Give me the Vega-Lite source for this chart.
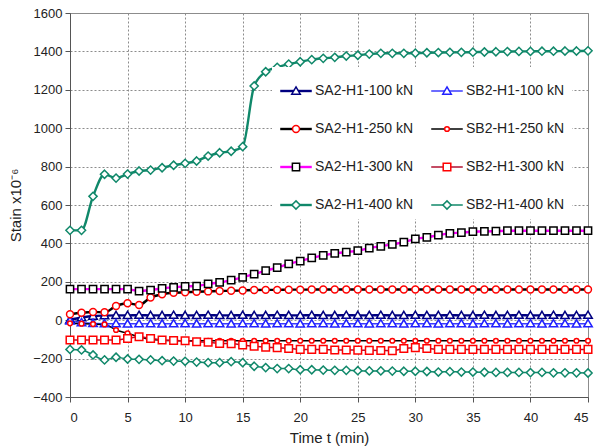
{
"$schema":"https://vega.github.io/schema/vega-lite/v6.json",
"width":518,"height":384,
"autosize":{"type":"none"},
"padding":{"left":70,"top":13,"right":6,"bottom":50},
"background":"white",
"config":{
 "font":"Liberation Sans",
 "view":{"stroke":"#8c8c8c","strokeWidth":1},
 "axis":{"labelFont":"Liberation Sans","labelFontSize":13,"labelColor":"#222","titleFont":"Liberation Sans","titleFontSize":15,"titleFontWeight":"normal","titleColor":"#222","gridColor":"#8c8c8c","gridDash":[2,2],"gridOpacity":1,"gridWidth":1,"domainColor":"#555","tickColor":"#555","tickSize":5}
},
"data":{"values":[
{"s":"SA2-H1-100 kN","t":0,"v":2},{"s":"SA2-H1-100 kN","t":1,"v":14},{"s":"SA2-H1-100 kN","t":2,"v":22},{"s":"SA2-H1-100 kN","t":3,"v":24},{"s":"SA2-H1-100 kN","t":4,"v":25},{"s":"SA2-H1-100 kN","t":5,"v":25},{"s":"SA2-H1-100 kN","t":6,"v":26},{"s":"SA2-H1-100 kN","t":7,"v":25},{"s":"SA2-H1-100 kN","t":8,"v":25},{"s":"SA2-H1-100 kN","t":9,"v":26},{"s":"SA2-H1-100 kN","t":10,"v":25},{"s":"SA2-H1-100 kN","t":11,"v":25},{"s":"SA2-H1-100 kN","t":12,"v":26},{"s":"SA2-H1-100 kN","t":13,"v":25},{"s":"SA2-H1-100 kN","t":14,"v":25},{"s":"SA2-H1-100 kN","t":15,"v":26},{"s":"SA2-H1-100 kN","t":16,"v":25},{"s":"SA2-H1-100 kN","t":17,"v":25},{"s":"SA2-H1-100 kN","t":18,"v":26},{"s":"SA2-H1-100 kN","t":19,"v":25},{"s":"SA2-H1-100 kN","t":20,"v":25},{"s":"SA2-H1-100 kN","t":21,"v":26},{"s":"SA2-H1-100 kN","t":22,"v":25},{"s":"SA2-H1-100 kN","t":23,"v":25},{"s":"SA2-H1-100 kN","t":24,"v":26},{"s":"SA2-H1-100 kN","t":25,"v":25},{"s":"SA2-H1-100 kN","t":26,"v":25},{"s":"SA2-H1-100 kN","t":27,"v":26},{"s":"SA2-H1-100 kN","t":28,"v":25},{"s":"SA2-H1-100 kN","t":29,"v":25},{"s":"SA2-H1-100 kN","t":30,"v":26},{"s":"SA2-H1-100 kN","t":31,"v":25},{"s":"SA2-H1-100 kN","t":32,"v":25},{"s":"SA2-H1-100 kN","t":33,"v":26},{"s":"SA2-H1-100 kN","t":34,"v":25},{"s":"SA2-H1-100 kN","t":35,"v":25},{"s":"SA2-H1-100 kN","t":36,"v":26},{"s":"SA2-H1-100 kN","t":37,"v":25},{"s":"SA2-H1-100 kN","t":38,"v":25},{"s":"SA2-H1-100 kN","t":39,"v":26},{"s":"SA2-H1-100 kN","t":40,"v":25},{"s":"SA2-H1-100 kN","t":41,"v":25},{"s":"SA2-H1-100 kN","t":42,"v":26},{"s":"SA2-H1-100 kN","t":43,"v":25},{"s":"SA2-H1-100 kN","t":44,"v":25},{"s":"SA2-H1-100 kN","t":45,"v":26},
{"s":"SB2-H1-100 kN","t":0,"v":-4},{"s":"SB2-H1-100 kN","t":1,"v":-12},{"s":"SB2-H1-100 kN","t":2,"v":-16},{"s":"SB2-H1-100 kN","t":3,"v":-18},{"s":"SB2-H1-100 kN","t":4,"v":-18},{"s":"SB2-H1-100 kN","t":5,"v":-19},{"s":"SB2-H1-100 kN","t":6,"v":-18},{"s":"SB2-H1-100 kN","t":7,"v":-18},{"s":"SB2-H1-100 kN","t":8,"v":-19},{"s":"SB2-H1-100 kN","t":9,"v":-18},{"s":"SB2-H1-100 kN","t":10,"v":-18},{"s":"SB2-H1-100 kN","t":11,"v":-19},{"s":"SB2-H1-100 kN","t":12,"v":-18},{"s":"SB2-H1-100 kN","t":13,"v":-18},{"s":"SB2-H1-100 kN","t":14,"v":-19},{"s":"SB2-H1-100 kN","t":15,"v":-18},{"s":"SB2-H1-100 kN","t":16,"v":-18},{"s":"SB2-H1-100 kN","t":17,"v":-19},{"s":"SB2-H1-100 kN","t":18,"v":-18},{"s":"SB2-H1-100 kN","t":19,"v":-18},{"s":"SB2-H1-100 kN","t":20,"v":-19},{"s":"SB2-H1-100 kN","t":21,"v":-18},{"s":"SB2-H1-100 kN","t":22,"v":-18},{"s":"SB2-H1-100 kN","t":23,"v":-19},{"s":"SB2-H1-100 kN","t":24,"v":-18},{"s":"SB2-H1-100 kN","t":25,"v":-18},{"s":"SB2-H1-100 kN","t":26,"v":-19},{"s":"SB2-H1-100 kN","t":27,"v":-18},{"s":"SB2-H1-100 kN","t":28,"v":-18},{"s":"SB2-H1-100 kN","t":29,"v":-19},{"s":"SB2-H1-100 kN","t":30,"v":-18},{"s":"SB2-H1-100 kN","t":31,"v":-18},{"s":"SB2-H1-100 kN","t":32,"v":-19},{"s":"SB2-H1-100 kN","t":33,"v":-18},{"s":"SB2-H1-100 kN","t":34,"v":-18},{"s":"SB2-H1-100 kN","t":35,"v":-19},{"s":"SB2-H1-100 kN","t":36,"v":-18},{"s":"SB2-H1-100 kN","t":37,"v":-18},{"s":"SB2-H1-100 kN","t":38,"v":-19},{"s":"SB2-H1-100 kN","t":39,"v":-18},{"s":"SB2-H1-100 kN","t":40,"v":-18},{"s":"SB2-H1-100 kN","t":41,"v":-19},{"s":"SB2-H1-100 kN","t":42,"v":-18},{"s":"SB2-H1-100 kN","t":43,"v":-18},{"s":"SB2-H1-100 kN","t":44,"v":-19},{"s":"SB2-H1-100 kN","t":45,"v":-18},
{"s":"SA2-H1-250 kN","t":0,"v":31},{"s":"SA2-H1-250 kN","t":1,"v":39},{"s":"SA2-H1-250 kN","t":2,"v":43},{"s":"SA2-H1-250 kN","t":3,"v":41},{"s":"SA2-H1-250 kN","t":4,"v":74},{"s":"SA2-H1-250 kN","t":5,"v":88},{"s":"SA2-H1-250 kN","t":6,"v":79},{"s":"SA2-H1-250 kN","t":7,"v":118},{"s":"SA2-H1-250 kN","t":8,"v":135},{"s":"SA2-H1-250 kN","t":9,"v":143},{"s":"SA2-H1-250 kN","t":10,"v":145},{"s":"SA2-H1-250 kN","t":11,"v":148},{"s":"SA2-H1-250 kN","t":12,"v":150},{"s":"SA2-H1-250 kN","t":13,"v":152},{"s":"SA2-H1-250 kN","t":14,"v":153},{"s":"SA2-H1-250 kN","t":15,"v":155},{"s":"SA2-H1-250 kN","t":16,"v":157},{"s":"SA2-H1-250 kN","t":17,"v":158},{"s":"SA2-H1-250 kN","t":18,"v":158},{"s":"SA2-H1-250 kN","t":19,"v":159},{"s":"SA2-H1-250 kN","t":20,"v":159},{"s":"SA2-H1-250 kN","t":21,"v":160},{"s":"SA2-H1-250 kN","t":22,"v":160},{"s":"SA2-H1-250 kN","t":23,"v":160},{"s":"SA2-H1-250 kN","t":24,"v":160},{"s":"SA2-H1-250 kN","t":25,"v":160},{"s":"SA2-H1-250 kN","t":26,"v":160},{"s":"SA2-H1-250 kN","t":27,"v":160},{"s":"SA2-H1-250 kN","t":28,"v":160},{"s":"SA2-H1-250 kN","t":29,"v":160},{"s":"SA2-H1-250 kN","t":30,"v":160},{"s":"SA2-H1-250 kN","t":31,"v":160},{"s":"SA2-H1-250 kN","t":32,"v":160},{"s":"SA2-H1-250 kN","t":33,"v":160},{"s":"SA2-H1-250 kN","t":34,"v":160},{"s":"SA2-H1-250 kN","t":35,"v":160},{"s":"SA2-H1-250 kN","t":36,"v":160},{"s":"SA2-H1-250 kN","t":37,"v":160},{"s":"SA2-H1-250 kN","t":38,"v":160},{"s":"SA2-H1-250 kN","t":39,"v":160},{"s":"SA2-H1-250 kN","t":40,"v":160},{"s":"SA2-H1-250 kN","t":41,"v":160},{"s":"SA2-H1-250 kN","t":42,"v":160},{"s":"SA2-H1-250 kN","t":43,"v":160},{"s":"SA2-H1-250 kN","t":44,"v":160},{"s":"SA2-H1-250 kN","t":45,"v":160},
{"s":"SB2-H1-250 kN","t":0,"v":-16},{"s":"SB2-H1-250 kN","t":1,"v":-18},{"s":"SB2-H1-250 kN","t":2,"v":-20},{"s":"SB2-H1-250 kN","t":3,"v":-22},{"s":"SB2-H1-250 kN","t":4,"v":-51},{"s":"SB2-H1-250 kN","t":5,"v":-68},{"s":"SB2-H1-250 kN","t":6,"v":-86},{"s":"SB2-H1-250 kN","t":7,"v":-100},{"s":"SB2-H1-250 kN","t":8,"v":-104},{"s":"SB2-H1-250 kN","t":9,"v":-106},{"s":"SB2-H1-250 kN","t":10,"v":-107},{"s":"SB2-H1-250 kN","t":11,"v":-107},{"s":"SB2-H1-250 kN","t":12,"v":-107},{"s":"SB2-H1-250 kN","t":13,"v":-107},{"s":"SB2-H1-250 kN","t":14,"v":-107},{"s":"SB2-H1-250 kN","t":15,"v":-107},{"s":"SB2-H1-250 kN","t":16,"v":-107},{"s":"SB2-H1-250 kN","t":17,"v":-107},{"s":"SB2-H1-250 kN","t":18,"v":-107},{"s":"SB2-H1-250 kN","t":19,"v":-107},{"s":"SB2-H1-250 kN","t":20,"v":-107},{"s":"SB2-H1-250 kN","t":21,"v":-107},{"s":"SB2-H1-250 kN","t":22,"v":-107},{"s":"SB2-H1-250 kN","t":23,"v":-107},{"s":"SB2-H1-250 kN","t":24,"v":-107},{"s":"SB2-H1-250 kN","t":25,"v":-107},{"s":"SB2-H1-250 kN","t":26,"v":-107},{"s":"SB2-H1-250 kN","t":27,"v":-107},{"s":"SB2-H1-250 kN","t":28,"v":-107},{"s":"SB2-H1-250 kN","t":29,"v":-107},{"s":"SB2-H1-250 kN","t":30,"v":-107},{"s":"SB2-H1-250 kN","t":31,"v":-107},{"s":"SB2-H1-250 kN","t":32,"v":-107},{"s":"SB2-H1-250 kN","t":33,"v":-107},{"s":"SB2-H1-250 kN","t":34,"v":-107},{"s":"SB2-H1-250 kN","t":35,"v":-107},{"s":"SB2-H1-250 kN","t":36,"v":-107},{"s":"SB2-H1-250 kN","t":37,"v":-107},{"s":"SB2-H1-250 kN","t":38,"v":-107},{"s":"SB2-H1-250 kN","t":39,"v":-107},{"s":"SB2-H1-250 kN","t":40,"v":-107},{"s":"SB2-H1-250 kN","t":41,"v":-107},{"s":"SB2-H1-250 kN","t":42,"v":-107},{"s":"SB2-H1-250 kN","t":43,"v":-107},{"s":"SB2-H1-250 kN","t":44,"v":-107},{"s":"SB2-H1-250 kN","t":45,"v":-107},
{"s":"SA2-H1-300 kN","t":0,"v":162},{"s":"SA2-H1-300 kN","t":1,"v":162},{"s":"SA2-H1-300 kN","t":2,"v":162},{"s":"SA2-H1-300 kN","t":3,"v":162},{"s":"SA2-H1-300 kN","t":4,"v":162},{"s":"SA2-H1-300 kN","t":5,"v":162},{"s":"SA2-H1-300 kN","t":6,"v":152},{"s":"SA2-H1-300 kN","t":7,"v":157},{"s":"SA2-H1-300 kN","t":8,"v":166},{"s":"SA2-H1-300 kN","t":9,"v":171},{"s":"SA2-H1-300 kN","t":10,"v":176},{"s":"SA2-H1-300 kN","t":11,"v":178},{"s":"SA2-H1-300 kN","t":12,"v":189},{"s":"SA2-H1-300 kN","t":13,"v":197},{"s":"SA2-H1-300 kN","t":14,"v":209},{"s":"SA2-H1-300 kN","t":15,"v":223},{"s":"SA2-H1-300 kN","t":16,"v":240},{"s":"SA2-H1-300 kN","t":17,"v":258},{"s":"SA2-H1-300 kN","t":18,"v":274},{"s":"SA2-H1-300 kN","t":19,"v":293},{"s":"SA2-H1-300 kN","t":20,"v":308},{"s":"SA2-H1-300 kN","t":21,"v":324},{"s":"SA2-H1-300 kN","t":22,"v":338},{"s":"SA2-H1-300 kN","t":23,"v":348},{"s":"SA2-H1-300 kN","t":24,"v":355},{"s":"SA2-H1-300 kN","t":25,"v":362},{"s":"SA2-H1-300 kN","t":26,"v":376},{"s":"SA2-H1-300 kN","t":27,"v":385},{"s":"SA2-H1-300 kN","t":28,"v":395},{"s":"SA2-H1-300 kN","t":29,"v":407},{"s":"SA2-H1-300 kN","t":30,"v":423},{"s":"SA2-H1-300 kN","t":31,"v":432},{"s":"SA2-H1-300 kN","t":32,"v":443},{"s":"SA2-H1-300 kN","t":33,"v":452},{"s":"SA2-H1-300 kN","t":34,"v":456},{"s":"SA2-H1-300 kN","t":35,"v":461},{"s":"SA2-H1-300 kN","t":36,"v":462},{"s":"SA2-H1-300 kN","t":37,"v":464},{"s":"SA2-H1-300 kN","t":38,"v":466},{"s":"SA2-H1-300 kN","t":39,"v":466},{"s":"SA2-H1-300 kN","t":40,"v":466},{"s":"SA2-H1-300 kN","t":41,"v":466},{"s":"SA2-H1-300 kN","t":42,"v":466},{"s":"SA2-H1-300 kN","t":43,"v":466},{"s":"SA2-H1-300 kN","t":44,"v":466},{"s":"SA2-H1-300 kN","t":45,"v":466},
{"s":"SB2-H1-300 kN","t":0,"v":-103},{"s":"SB2-H1-300 kN","t":1,"v":-103},{"s":"SB2-H1-300 kN","t":2,"v":-103},{"s":"SB2-H1-300 kN","t":3,"v":-103},{"s":"SB2-H1-300 kN","t":4,"v":-103},{"s":"SB2-H1-300 kN","t":5,"v":-95},{"s":"SB2-H1-300 kN","t":6,"v":-86},{"s":"SB2-H1-300 kN","t":7,"v":-95},{"s":"SB2-H1-300 kN","t":8,"v":-103},{"s":"SB2-H1-300 kN","t":9,"v":-106},{"s":"SB2-H1-300 kN","t":10,"v":-107},{"s":"SB2-H1-300 kN","t":11,"v":-112},{"s":"SB2-H1-300 kN","t":12,"v":-115},{"s":"SB2-H1-300 kN","t":13,"v":-121},{"s":"SB2-H1-300 kN","t":14,"v":-122},{"s":"SB2-H1-300 kN","t":15,"v":-129},{"s":"SB2-H1-300 kN","t":16,"v":-136},{"s":"SB2-H1-300 kN","t":17,"v":-141},{"s":"SB2-H1-300 kN","t":18,"v":-143},{"s":"SB2-H1-300 kN","t":19,"v":-147},{"s":"SB2-H1-300 kN","t":20,"v":-152},{"s":"SB2-H1-300 kN","t":21,"v":-152},{"s":"SB2-H1-300 kN","t":22,"v":-152},{"s":"SB2-H1-300 kN","t":23,"v":-155},{"s":"SB2-H1-300 kN","t":24,"v":-155},{"s":"SB2-H1-300 kN","t":25,"v":-156},{"s":"SB2-H1-300 kN","t":26,"v":-157},{"s":"SB2-H1-300 kN","t":27,"v":-158},{"s":"SB2-H1-300 kN","t":28,"v":-159},{"s":"SB2-H1-300 kN","t":29,"v":-147},{"s":"SB2-H1-300 kN","t":30,"v":-143},{"s":"SB2-H1-300 kN","t":31,"v":-147},{"s":"SB2-H1-300 kN","t":32,"v":-152},{"s":"SB2-H1-300 kN","t":33,"v":-152},{"s":"SB2-H1-300 kN","t":34,"v":-152},{"s":"SB2-H1-300 kN","t":35,"v":-152},{"s":"SB2-H1-300 kN","t":36,"v":-152},{"s":"SB2-H1-300 kN","t":37,"v":-152},{"s":"SB2-H1-300 kN","t":38,"v":-152},{"s":"SB2-H1-300 kN","t":39,"v":-152},{"s":"SB2-H1-300 kN","t":40,"v":-152},{"s":"SB2-H1-300 kN","t":41,"v":-152},{"s":"SB2-H1-300 kN","t":42,"v":-152},{"s":"SB2-H1-300 kN","t":43,"v":-152},{"s":"SB2-H1-300 kN","t":44,"v":-152},{"s":"SB2-H1-300 kN","t":45,"v":-152},
{"s":"SA2-H1-400 kN","t":0,"v":468},{"s":"SA2-H1-400 kN","t":1,"v":468},{"s":"SA2-H1-400 kN","t":2,"v":645},{"s":"SA2-H1-400 kN","t":3,"v":760},{"s":"SA2-H1-400 kN","t":4,"v":740},{"s":"SA2-H1-400 kN","t":5,"v":761},{"s":"SA2-H1-400 kN","t":6,"v":777},{"s":"SA2-H1-400 kN","t":7,"v":782},{"s":"SA2-H1-400 kN","t":8,"v":794},{"s":"SA2-H1-400 kN","t":9,"v":807},{"s":"SA2-H1-400 kN","t":10,"v":817},{"s":"SA2-H1-400 kN","t":11,"v":829},{"s":"SA2-H1-400 kN","t":12,"v":855},{"s":"SA2-H1-400 kN","t":13,"v":872},{"s":"SA2-H1-400 kN","t":14,"v":880},{"s":"SA2-H1-400 kN","t":15,"v":904},{"s":"SA2-H1-400 kN","t":16,"v":1220},{"s":"SA2-H1-400 kN","t":17,"v":1294},{"s":"SA2-H1-400 kN","t":18,"v":1317},{"s":"SA2-H1-400 kN","t":19,"v":1334},{"s":"SA2-H1-400 kN","t":20,"v":1346},{"s":"SA2-H1-400 kN","t":21,"v":1357},{"s":"SA2-H1-400 kN","t":22,"v":1364},{"s":"SA2-H1-400 kN","t":23,"v":1369},{"s":"SA2-H1-400 kN","t":24,"v":1376},{"s":"SA2-H1-400 kN","t":25,"v":1380},{"s":"SA2-H1-400 kN","t":26,"v":1386},{"s":"SA2-H1-400 kN","t":27,"v":1390},{"s":"SA2-H1-400 kN","t":28,"v":1390},{"s":"SA2-H1-400 kN","t":29,"v":1390},{"s":"SA2-H1-400 kN","t":30,"v":1391},{"s":"SA2-H1-400 kN","t":31,"v":1393},{"s":"SA2-H1-400 kN","t":32,"v":1394},{"s":"SA2-H1-400 kN","t":33,"v":1395},{"s":"SA2-H1-400 kN","t":34,"v":1395},{"s":"SA2-H1-400 kN","t":35,"v":1396},{"s":"SA2-H1-400 kN","t":36,"v":1397},{"s":"SA2-H1-400 kN","t":37,"v":1398},{"s":"SA2-H1-400 kN","t":38,"v":1399},{"s":"SA2-H1-400 kN","t":39,"v":1400},{"s":"SA2-H1-400 kN","t":40,"v":1400},{"s":"SA2-H1-400 kN","t":41,"v":1401},{"s":"SA2-H1-400 kN","t":42,"v":1401},{"s":"SA2-H1-400 kN","t":43,"v":1402},{"s":"SA2-H1-400 kN","t":44,"v":1402},{"s":"SA2-H1-400 kN","t":45,"v":1403},
{"s":"SB2-H1-400 kN","t":0,"v":-152},{"s":"SB2-H1-400 kN","t":1,"v":-155},{"s":"SB2-H1-400 kN","t":2,"v":-181},{"s":"SB2-H1-400 kN","t":3,"v":-207},{"s":"SB2-H1-400 kN","t":4,"v":-193},{"s":"SB2-H1-400 kN","t":5,"v":-202},{"s":"SB2-H1-400 kN","t":6,"v":-204},{"s":"SB2-H1-400 kN","t":7,"v":-207},{"s":"SB2-H1-400 kN","t":8,"v":-211},{"s":"SB2-H1-400 kN","t":9,"v":-213},{"s":"SB2-H1-400 kN","t":10,"v":-214},{"s":"SB2-H1-400 kN","t":11,"v":-218},{"s":"SB2-H1-400 kN","t":12,"v":-221},{"s":"SB2-H1-400 kN","t":13,"v":-221},{"s":"SB2-H1-400 kN","t":14,"v":-216},{"s":"SB2-H1-400 kN","t":15,"v":-221},{"s":"SB2-H1-400 kN","t":16,"v":-240},{"s":"SB2-H1-400 kN","t":17,"v":-247},{"s":"SB2-H1-400 kN","t":18,"v":-252},{"s":"SB2-H1-400 kN","t":19,"v":-252},{"s":"SB2-H1-400 kN","t":20,"v":-258},{"s":"SB2-H1-400 kN","t":21,"v":-258},{"s":"SB2-H1-400 kN","t":22,"v":-260},{"s":"SB2-H1-400 kN","t":23,"v":-261},{"s":"SB2-H1-400 kN","t":24,"v":-261},{"s":"SB2-H1-400 kN","t":25,"v":-263},{"s":"SB2-H1-400 kN","t":26,"v":-264},{"s":"SB2-H1-400 kN","t":27,"v":-264},{"s":"SB2-H1-400 kN","t":28,"v":-265},{"s":"SB2-H1-400 kN","t":29,"v":-266},{"s":"SB2-H1-400 kN","t":30,"v":-266},{"s":"SB2-H1-400 kN","t":31,"v":-267},{"s":"SB2-H1-400 kN","t":32,"v":-270},{"s":"SB2-H1-400 kN","t":33,"v":-268},{"s":"SB2-H1-400 kN","t":34,"v":-270},{"s":"SB2-H1-400 kN","t":35,"v":-270},{"s":"SB2-H1-400 kN","t":36,"v":-271},{"s":"SB2-H1-400 kN","t":37,"v":-272},{"s":"SB2-H1-400 kN","t":38,"v":-272},{"s":"SB2-H1-400 kN","t":39,"v":-272},{"s":"SB2-H1-400 kN","t":40,"v":-273},{"s":"SB2-H1-400 kN","t":41,"v":-272},{"s":"SB2-H1-400 kN","t":42,"v":-274},{"s":"SB2-H1-400 kN","t":43,"v":-274},{"s":"SB2-H1-400 kN","t":44,"v":-274},{"s":"SB2-H1-400 kN","t":45,"v":-275}
]},
"encoding":{
 "x":{"field":"t","type":"quantitative","scale":{"domain":[0,45],"nice":false,"zero":false},"axis":{"title":"Time t (min)","values":[0,5,10,15,20,25,30,35,40,45],"labelPadding":9,"titlePadding":6}},
 "y":{"field":"v","type":"quantitative","scale":{"domain":[-400,1600],"nice":false},"axis":{"title":"Stain x10⁻⁶","format":"d","values":[-400,-200,0,200,400,600,800,1000,1200,1400,1600],"labelPadding":3,"titlePadding":9}}
},
"layer":[
 {"mark":{"type":"line","interpolate":"monotone","opacity":1},
  "encoding":{
   "color":{"field":"s","type":"nominal",
     "scale":{"domain":["SA2-H1-100 kN","SB2-H1-100 kN","SA2-H1-250 kN","SB2-H1-250 kN","SA2-H1-300 kN","SB2-H1-300 kN","SA2-H1-400 kN","SB2-H1-400 kN"],
              "range":["#000080","#3b3bff","#000000","#000000","#ff00ff","#b01030","#10886a","#10886a"]},
     "legend":{"title":null,"orient":"none","direction":"horizontal","legendX":202,"legendY":54,"columns":2,"padding":7,"rowPadding":14,"columnPadding":14,"labelOffset":2,"symbolSize":995.4,"labelFont":"Liberation Sans","labelFontSize":14,"labelColor":"#222","labelLimit":200,"fillColor":"white","symbolOpacity":1}},
   "strokeWidth":{"field":"s","type":"nominal",
     "scale":{"type":"ordinal","domain":["SA2-H1-100 kN","SB2-H1-100 kN","SA2-H1-250 kN","SB2-H1-250 kN","SA2-H1-300 kN","SB2-H1-300 kN","SA2-H1-400 kN","SB2-H1-400 kN"],
              "range":[2.4,1.5,2.4,1.5,2.4,1.5,2.4,1.5]}}
  }},
 {"mark":{"type":"point","fill":"white","opacity":1,"strokeWidth":1.5,"size":995.4},
  "encoding":{
   "stroke":{"field":"s","type":"nominal",
     "scale":{"domain":["SA2-H1-100 kN","SB2-H1-100 kN","SA2-H1-250 kN","SB2-H1-250 kN","SA2-H1-300 kN","SB2-H1-300 kN","SA2-H1-400 kN","SB2-H1-400 kN"],
              "range":["#000080","#2020ff","#ff0000","#ff0000","#000000","#ff0000","#10886a","#10886a"]},
     "legend":{"title":null,"orient":"none","direction":"horizontal","legendX":202,"legendY":54,"columns":2,"padding":7,"rowPadding":14,"columnPadding":14,"labelOffset":2,"symbolSize":995.4,"symbolStrokeWidth":1.5,"labelFont":"Liberation Sans","labelFontSize":14,"labelOpacity":0,"labelLimit":200,"symbolOpacity":1}},
   "shape":{"field":"s","type":"nominal",
     "scale":{"domain":["SA2-H1-100 kN","SB2-H1-100 kN","SA2-H1-250 kN","SB2-H1-250 kN","SA2-H1-300 kN","SB2-H1-300 kN","SA2-H1-400 kN","SB2-H1-400 kN"],
              "range":["M-1,0M1,0M0,-0.26L0.27,0.2L-0.27,0.2Z","M-1,0M1,0M0,-0.26L0.27,0.2L-0.27,0.2Z","M-1,0M1,0M0.22,0A0.22,0.22 0 1,1 -0.22,0A0.22,0.22 0 1,1 0.22,0Z","M-1,0M1,0M0.15,0A0.15,0.15 0 1,1 -0.15,0A0.15,0.15 0 1,1 0.15,0Z","M-1,0M1,0M-0.23,-0.23L0.23,-0.23L0.23,0.23L-0.23,0.23Z","M-1,0M1,0M-0.24,-0.24L0.24,-0.24L0.24,0.24L-0.24,0.24Z","M-1,0M1,0M0,-0.26L0.26,0L0,0.26L-0.26,0Z","M-1,0M1,0M0,-0.26L0.26,0L0,0.26L-0.26,0Z"]}}
  }}
],
"resolve":{"legend":{"color":"independent","strokeWidth":"independent","stroke":"independent","shape":"independent"}}
}
